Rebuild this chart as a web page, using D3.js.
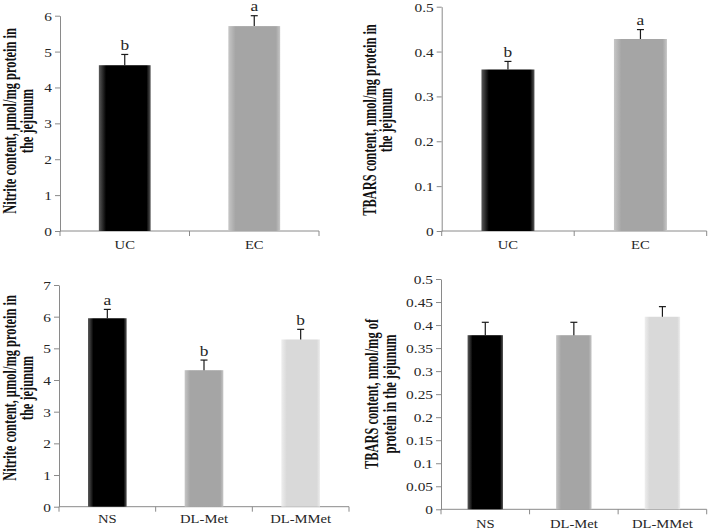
<!DOCTYPE html>
<html><head><meta charset="utf-8">
<script src="https://cdn.jsdelivr.net/npm/d3@7"></script>
<style>body{margin:0;background:#fff}svg{display:block}</style>
</head><body>
<svg id="c" width="709" height="531"></svg>
<script>
// ---------- data ----------
const topCategories = ["UC", "EC"];
const bottomCategories = ["NS", "DL-Met", "DL-MMet"];

const nitriteTop = [4.62, 5.71];
const nitriteTopErr = [0.30, 0.29];
const nitriteTopLetters = ["b", "a"];
const nitriteTopTicks = [0, 1, 2, 3, 4, 5, 6];
const nitriteTopTickLabels = ["0", "1", "2", "3", "4", "5", "6"];

const tbarsTop = [0.36, 0.428];
const tbarsTopErr = [0.018, 0.021];
const tbarsTopLetters = ["b", "a"];
const tbarsTopTicks = [0, 0.1, 0.2, 0.3, 0.4, 0.5];
const tbarsTopTickLabels = ["0", "0.1", "0.2", "0.3", "0.4", "0.5"];

const nitriteBottom = [5.95, 4.31, 5.28];
const nitriteBottomErr = [0.28, 0.32, 0.32];
const nitriteBottomLetters = ["a", "b", "b"];
const nitriteBottomTicks = [0, 1, 2, 3, 4, 5, 6, 7];
const nitriteBottomTickLabels = ["0", "1", "2", "3", "4", "5", "6", "7"];

const tbarsBottom = [0.378, 0.378, 0.418];
const tbarsBottomErr = [0.028, 0.028, 0.022];
const tbarsBottomLetters = ["", "", ""];
const tbarsBottomTicks = [0, 0.05, 0.1, 0.15, 0.2, 0.25, 0.3, 0.35, 0.4, 0.45, 0.5];
const tbarsBottomTickLabels = ["0", "0.05", "0.1", "0.15", "0.2", "0.25", "0.3", "0.35", "0.4", "0.45", "0.5"];

const titleNitrite = ["Nitrite content, µmol/mg protein in", "the jejunum"];
const titleTbarsTop = ["TBARS content, nmol/mg protein in", "the jejunum"];
const titleTbarsBottom = ["TBARS content, nmol/mg of", "protein in the jejunum"];

// ---------- styles ----------
const FONT = "'Liberation Serif','Times New Roman',serif";
const SX = 1.24; // horizontal stretch of the original image
const axisColor = "#8a8a8a";
const textColor = "#262626";
const barFills = [
  {id: "gBlack", edge: "#5a5a5a", base: "#000000"},
  {id: "gMid", edge: "#c6c6c6", base: "#a5a5a5"},
  {id: "gLight", edge: "#eeeeee", base: "#d9d9d9"}
];

const svg = d3.select("#c");
const defs = svg.append("defs");
barFills.forEach(f => {
  const g = defs.append("linearGradient").attr("id", f.id).attr("x1", 0).attr("x2", 1).attr("y1", 0).attr("y2", 0);
  g.append("stop").attr("offset", 0).attr("stop-color", f.edge);
  g.append("stop").attr("offset", 0.14).attr("stop-color", f.base);
  g.append("stop").attr("offset", 0.92).attr("stop-color", f.base);
  g.append("stop").attr("offset", 1).attr("stop-color", f.edge);
});

function panel(o) {
  const g = svg.append("g");
  const y = d3.scaleLinear().domain([0, o.max]).range([o.yBottom, o.yTop]);
  const x = d3.scaleBand().domain(o.cats).range([o.xLeft, o.xRight]).paddingInner(0.6).paddingOuter(0.3);

  // y axis
  const ya = g.append("g").attr("transform", `translate(${o.xLeft},0)`)
    .call(d3.axisLeft(y).tickValues(o.ticks).tickFormat((d, i) => o.tickLabels[i]).tickSize(5).tickSizeOuter(0));
  ya.select(".domain").attr("stroke", axisColor);
  ya.selectAll(".tick line").attr("stroke", axisColor);
  ya.selectAll(".tick text").attr("x", null).attr("dy", null)
    .attr("transform", `translate(-8,4.5) scale(${SX},1)`)
    .attr("font-family", FONT).attr("font-size", 12.4).attr("fill", textColor);

  // x axis line + ticks at band boundaries
  const bounds = d3.range(o.cats.length + 1).map(i => o.xLeft + i * x.step());
  g.append("line").attr("x1", o.xLeft).attr("x2", o.xRight).attr("y1", o.yBottom).attr("y2", o.yBottom)
    .attr("stroke", axisColor);
  g.selectAll(".xt").data(bounds).join("line").attr("class", "xt")
    .attr("x1", d => d).attr("x2", d => d).attr("y1", o.yBottom).attr("y2", o.yBottom + 5)
    .attr("stroke", axisColor);
  g.selectAll(".xl").data(o.cats).join("text").attr("class", "xl")
    .attr("transform", d => `translate(${x(d) + x.bandwidth() / 2},${o.yBottom + o.labelOff}) scale(${SX},1)`)
    .attr("text-anchor", "middle").attr("font-family", FONT).attr("font-size", 11.8).attr("fill", textColor)
    .text(d => d);

  // bars
  g.selectAll(".bar").data(o.values).join("rect").attr("class", "bar")
    .attr("x", (d, i) => x(o.cats[i])).attr("width", x.bandwidth())
    .attr("y", d => y(d)).attr("height", d => o.yBottom - y(d))
    .attr("fill", (d, i) => `url(#${o.fills[i]})`);

  // error bars
  const eb = g.selectAll(".eb").data(o.values).join("g").attr("class", "eb");
  eb.append("line")
    .attr("x1", (d, i) => x(o.cats[i]) + x.bandwidth() / 2).attr("x2", (d, i) => x(o.cats[i]) + x.bandwidth() / 2)
    .attr("y1", d => y(d)).attr("y2", (d, i) => y(d + o.errs[i]))
    .attr("stroke", "#1a1a1a").attr("stroke-width", 1.2);
  eb.append("line")
    .attr("x1", (d, i) => x(o.cats[i]) + x.bandwidth() / 2 - 3.5).attr("x2", (d, i) => x(o.cats[i]) + x.bandwidth() / 2 + 3.5)
    .attr("y1", (d, i) => y(d + o.errs[i])).attr("y2", (d, i) => y(d + o.errs[i]))
    .attr("stroke", "#1a1a1a").attr("stroke-width", 1.2);

  // significance letters
  g.selectAll(".let").data(o.values).join("text").attr("class", "let")
    .attr("transform", (d, i) => `translate(${x(o.cats[i]) + x.bandwidth() / 2},${y(d + o.errs[i]) - 4.5}) scale(${SX},1)`)
    .attr("text-anchor", "middle").attr("font-family", FONT).attr("font-size", 14).attr("fill", textColor)
    .text((d, i) => o.letters[i]);

  // rotated title
  o.title.forEach((t, i) => {
    g.append("text")
      .attr("transform", `translate(${o.titleX[i]},${o.titleY}) rotate(-90) scale(1,1.5)`)
      .attr("text-anchor", "middle").attr("font-family", FONT).attr("font-weight", "bold")
      .attr("font-size", 12.4).attr("fill", "#111").text(t);
  });
}

panel({cats: topCategories, values: nitriteTop, errs: nitriteTopErr, letters: nitriteTopLetters,
  ticks: nitriteTopTicks, tickLabels: nitriteTopTickLabels, max: 6,
  xLeft: 60, xRight: 319, yTop: 15.7, yBottom: 231, labelOff: 18,
  fills: ["gBlack", "gMid"], title: titleNitrite, titleX: [16, 33], titleY: 121});

panel({cats: topCategories, values: tbarsTop, errs: tbarsTopErr, letters: tbarsTopLetters,
  ticks: tbarsTopTicks, tickLabels: tbarsTopTickLabels, max: 0.5,
  xLeft: 441.7, xRight: 706.7, yTop: 6.7, yBottom: 231, labelOff: 18,
  fills: ["gBlack", "gMid"], title: titleTbarsTop, titleX: [375.5, 392], titleY: 120});

panel({cats: bottomCategories, values: nitriteBottom, errs: nitriteBottomErr, letters: nitriteBottomLetters,
  ticks: nitriteBottomTicks, tickLabels: nitriteBottomTickLabels, max: 7,
  xLeft: 59, xRight: 349, yTop: 285, yBottom: 506.7, labelOff: 16.5,
  fills: ["gBlack", "gMid", "gLight"], title: titleNitrite, titleX: [16, 33], titleY: 388});

panel({cats: bottomCategories, values: tbarsBottom, errs: tbarsBottomErr, letters: tbarsBottomLetters,
  ticks: tbarsBottomTicks, tickLabels: tbarsBottomTickLabels, max: 0.5,
  xLeft: 441, xRight: 706.7, yTop: 279, yBottom: 509.3, labelOff: 19,
  fills: ["gBlack", "gMid", "gLight"], title: titleTbarsBottom, titleX: [377.5, 395.5], titleY: 394});
</script>
</body></html>
